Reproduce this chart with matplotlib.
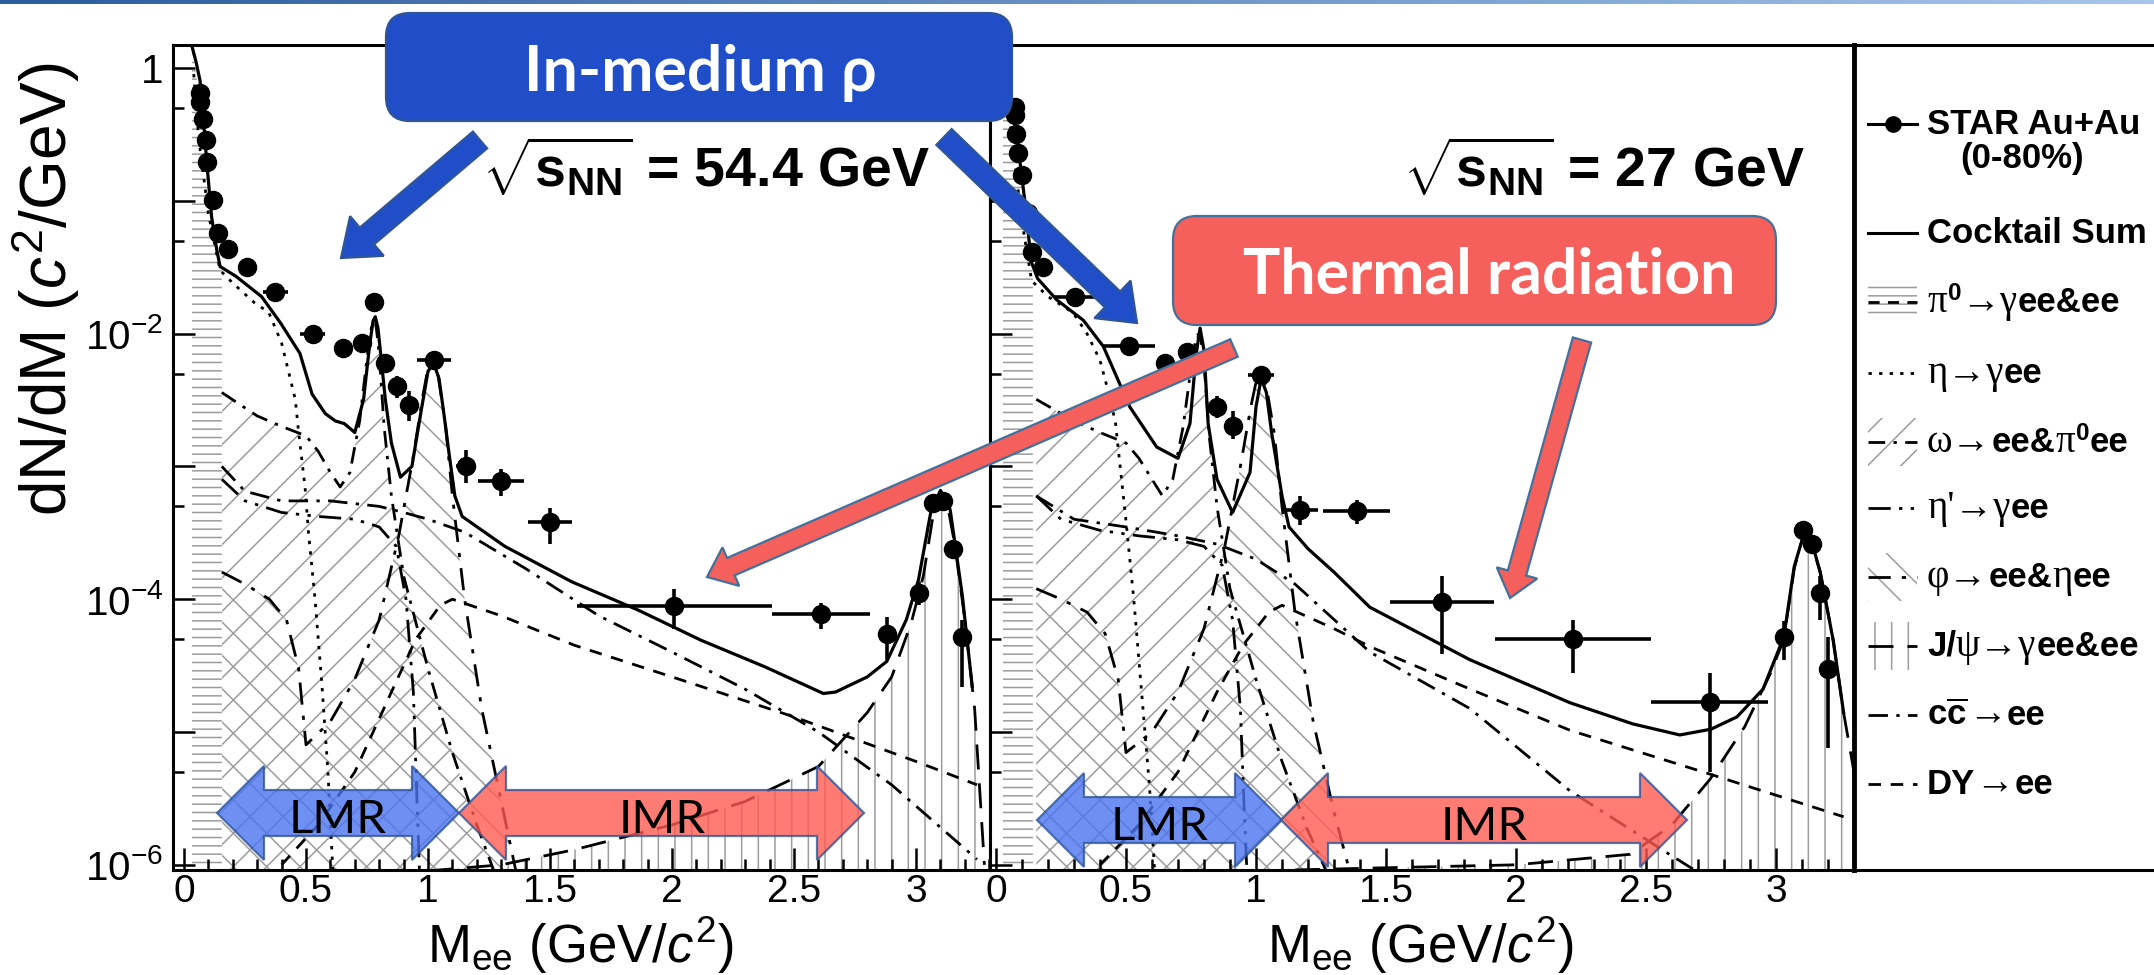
import numpy as np
import matplotlib
matplotlib.use("Agg")
import matplotlib.pyplot as plt
from matplotlib.patches import FancyBboxPatch, Polygon, Rectangle
from matplotlib.offsetbox import TextArea, HPacker, AnnotationBbox
from matplotlib.ticker import FixedLocator, FuncFormatter, NullFormatter
from matplotlib.colors import LinearSegmentedColormap

# ======================= DATA =======================
# ---- 54.4 GeV (left panel) ----
L_m = [0.066, 0.066, 0.078, 0.090, 0.094, 0.119, 0.139, 0.180, 0.258, 0.375, 0.527, 0.650, 0.728, 0.780,
       0.822, 0.874, 0.924, 1.023, 1.155, 1.300, 1.500, 2.010, 2.610, 2.880, 3.010, 3.070, 3.110, 3.150, 3.190]
L_y = [0.65, 0.555, 0.41, 0.287, 0.196, 0.101, 0.057, 0.043, 0.032, 0.0207, 0.0100, 0.0078, 0.0085, 0.0174,
       0.0060, 0.0040, 0.0029, 0.0063, 1.0e-3, 7.7e-4, 3.8e-4, 8.9e-5, 7.7e-5, 5.5e-5, 1.12e-4, 5.3e-4, 5.5e-4, 2.4e-4, 5.2e-5]
L_xerr = [0, 0, 0, 0, 0, 0, 0, 0, 0.02, 0.05, 0.05, 0.02, 0.02, 0.01,
          0.01, 0.01, 0.01, 0.07, 0.04, 0.095, 0.09, 0.40, 0.20, 0.03, 0.01, 0.01, 0.01, 0.01, 0.01]
L_ylo = [0.65, 0.555, 0.41, 0.287, 0.196, 0.101, 0.057, 0.043, 0.032, 0.0207, 0.0100, 0.0078, 0.0085, 0.0174,
         0.0055, 0.0033, 0.0022, 0.0063, 7.5e-4, 6.0e-4, 2.6e-4, 6.0e-5, 6.0e-5, 3.5e-5, 9.0e-5, 5.3e-4, 5.5e-4, 2.0e-4, 2.2e-5]
L_yhi = [0.65, 0.555, 0.41, 0.287, 0.196, 0.101, 0.057, 0.043, 0.032, 0.0207, 0.0100, 0.0078, 0.0085, 0.0174,
         0.0066, 0.0048, 0.0037, 0.0063, 1.34e-3, 9.5e-4, 4.9e-4, 1.2e-4, 9.4e-5, 7.3e-5, 1.35e-4, 5.3e-4, 5.5e-4, 2.8e-4, 7.0e-5]

L_sum_m = [0.031, 0.050, 0.066, 0.080, 0.093, 0.113, 0.134, 0.148, 0.213, 0.318, 0.396, 0.475, 0.525, 0.579, 0.620,
           0.657, 0.700, 0.736, 0.760, 0.775, 0.784, 0.795, 0.810, 0.825, 0.850, 0.887, 0.934, 0.970, 1.000, 1.023,
           1.045, 1.065, 1.085, 1.110, 1.140, 1.315, 1.590, 1.860, 2.120, 2.380, 2.620, 2.670, 2.800, 2.880, 2.960,
           3.010, 3.060, 3.100, 3.140, 3.190, 3.230]
L_sum = [1.5, 1.1, 0.8, 0.4, 0.2, 0.076, 0.043, 0.032, 0.027, 0.019, 0.012, 0.0071, 0.0035, 0.0025, 0.0022,
         0.0021, 0.0018, 0.0032, 0.008, 0.0125, 0.0134, 0.011, 0.006, 0.0032, 0.0015, 8.3e-4, 1.0e-3, 2.5e-3, 5.2e-3, 6.0e-3,
         4.6e-3, 2.5e-3, 1.3e-3, 6.0e-4, 4.2e-4, 2.5e-4, 1.35e-4, 8.3e-5, 4.9e-5, 3.1e-5, 1.95e-5, 2.0e-5, 2.6e-5, 3.4e-5, 7.0e-5,
         1.4e-4, 4.5e-4, 6.6e-4, 4.7e-4, 1.05e-4, 2.2e-5]

L_pi0_m = [0.033, 0.050, 0.070, 0.090, 0.110, 0.130, 0.155, 0.155]
L_pi0 = [1.5, 0.9, 0.5, 0.25, 0.1, 0.045, 0.03, 1e-8]
L_eta_m = [0.040, 0.060, 0.100, 0.148, 0.200, 0.290, 0.347, 0.400, 0.456, 0.470, 0.496, 0.510, 0.537, 0.565, 0.590, 0.610]
L_eta = [0.9, 0.3, 0.08, 0.030, 0.024, 0.017, 0.0145, 0.0085, 0.0032, 0.0018, 7e-4, 3.2e-4, 1e-4, 2.3e-5, 5e-6, 9e-7]
OMG_m = [0.155, 0.300, 0.400, 0.500, 0.550, 0.600, 0.640, 0.680, 0.720, 0.750, 0.770, 0.785, 0.800, 0.820, 0.850,
         0.900, 1.000, 1.100, 1.200, 1.270]
L_omg = [3.6e-3, 2.4e-3, 2.0e-3, 1.7e-3, 1.3e-3, 9e-4, 7e-4, 9e-4, 2.2e-3, 6.5e-3, 0.0118, 0.0125, 0.007, 2e-3, 6e-4,
         1.5e-4, 3e-5, 7e-6, 2e-6, 9e-7]
PHI_m = [0.155, 0.250, 0.350, 0.420, 0.470, 0.500, 0.600, 0.700, 0.800, 0.880, 0.940, 0.980, 1.000, 1.020, 1.040,
         1.070, 1.100, 1.150, 1.220, 1.300, 1.360]
L_phi = [1.6e-4, 1.3e-4, 1.0e-4, 7e-5, 3e-5, 8e-6, 1.2e-5, 2.5e-5, 7e-5, 3e-4, 1.2e-3, 3.5e-3, 5.5e-3, 6.0e-3, 5.0e-3,
         2.2e-3, 6e-4, 1e-4, 1.5e-5, 3e-6, 9e-7]
ETP_m = [0.155, 0.250, 0.400, 0.550, 0.700, 0.800, 0.870, 0.910, 0.940, 0.955, 0.965]
L_etp = [8e-4, 5.5e-4, 4.5e-4, 4.2e-4, 4.0e-4, 3.5e-4, 2.5e-4, 1.0e-4, 2e-5, 3e-6, 9e-7]
L_cc_m = [0.155, 0.250, 0.400, 0.600, 0.800, 0.900, 1.000, 1.150, 1.400, 1.700, 2.000, 2.300, 2.600, 2.900, 3.250]
L_cc = [1.0e-3, 6.5e-4, 5.5e-4, 5.5e-4, 5.0e-4, 4.5e-4, 4.0e-4, 3.2e-4, 1.7e-4, 7.5e-5, 4.0e-5, 2.1e-5, 1.0e-5, 4.0e-6, 1.1e-6]
L_dy_m = [0.400, 0.550, 0.700, 0.850, 0.950, 1.050, 1.100, 1.300, 1.600, 2.000, 2.500, 3.000, 3.250]
L_dy = [1e-6, 2e-6, 5e-6, 2e-5, 5e-5, 9e-5, 1e-4, 7.5e-5, 4.5e-5, 2.6e-5, 1.3e-5, 6e-6, 4e-6]
L_jp_m = [1.000, 1.300, 1.600, 2.000, 2.300, 2.600, 2.800, 2.900, 2.980, 3.030, 3.070, 3.100, 3.130, 3.160, 3.200, 3.240, 3.280]
L_jp = [9e-7, 1e-6, 1.3e-6, 2e-6, 3e-6, 5.5e-6, 1.4e-5, 2.6e-5, 6.6e-5, 1.5e-4, 4.3e-4, 6.5e-4, 5.0e-4, 2.5e-4, 7e-5, 1.5e-5, 1e-6]

# ---- 27 GeV (right panel) ----
R_m = [0.073, 0.073, 0.077, 0.085, 0.099, 0.124, 0.137, 0.180, 0.305, 0.510, 0.650, 0.733, 0.849, 0.910, 1.020,
       1.170, 1.387, 1.714, 2.220, 2.746, 3.030, 3.105, 3.140, 3.170, 3.200]
R_y = [0.51, 0.44, 0.32, 0.23, 0.156, 0.081, 0.041, 0.032, 0.019, 0.0080, 0.0060, 0.0073, 0.0028, 0.0020, 0.0049,
       4.7e-4, 4.6e-4, 9.6e-5, 5.0e-5, 1.67e-5, 5.2e-5, 3.3e-4, 2.6e-4, 1.12e-4, 3.0e-5]
R_xerr = [0, 0, 0, 0, 0, 0, 0, 0.03, 0.08, 0.10, 0.02, 0.02, 0.02, 0.02, 0.05,
          0.07, 0.13, 0.20, 0.30, 0.225, 0.02, 0.02, 0.02, 0.01, 0.01]
R_ylo = [0.51, 0.44, 0.32, 0.23, 0.156, 0.081, 0.041, 0.032, 0.019, 0.0080, 0.0060, 0.0073, 0.0023, 0.0016, 0.0049,
         3.6e-4, 3.7e-4, 3.9e-5, 2.8e-5, 5.0e-6, 3.5e-5, 3.3e-4, 2.6e-4, 7.0e-5, 7.6e-6]
R_yhi = [0.51, 0.44, 0.32, 0.23, 0.156, 0.081, 0.041, 0.032, 0.019, 0.0080, 0.0060, 0.0073, 0.0034, 0.0026, 0.0049,
         6.0e-4, 5.6e-4, 1.5e-4, 7.0e-5, 2.8e-5, 6.8e-5, 3.3e-4, 2.6e-4, 1.5e-4, 5.2e-5]

R_sum_m = [0.025, 0.050, 0.080, 0.100, 0.120, 0.135, 0.160, 0.233, 0.336, 0.413, 0.515, 0.618, 0.700, 0.746, 0.770,
           0.785, 0.800, 0.816, 0.850, 0.910, 0.977, 1.000, 1.020, 1.040, 1.060, 1.100, 1.127, 1.200, 1.300, 1.438,
           1.823, 2.208, 2.450, 2.630, 2.750, 2.850, 2.950, 3.030, 3.070, 3.105, 3.140, 3.170, 3.220, 3.260]
R_sum = [1.5, 0.8, 0.3, 0.15, 0.07, 0.035, 0.026, 0.018, 0.0126, 0.008, 0.0028, 0.0014, 0.00115, 0.0021, 0.007,
         0.011, 0.0075, 0.0021, 8.0e-4, 4.5e-4, 9.0e-4, 2.8e-3, 4.6e-3, 3.6e-3, 1.8e-3, 6.0e-4, 3.5e-4, 2.4e-4, 1.6e-4, 8.7e-5,
         3.5e-5, 1.66e-5, 1.15e-5, 9.5e-6, 1.05e-5, 1.3e-5, 2.1e-5, 5.2e-5, 1.76e-4, 3.0e-4, 2.6e-4, 1.6e-4, 4.9e-5, 1.4e-5]

R_pi0_m = [0.027, 0.045, 0.065, 0.085, 0.105, 0.125, 0.142, 0.142]
R_pi0 = [1.5, 0.9, 0.5, 0.25, 0.1, 0.045, 0.028, 1e-8]
R_eta_m = [0.035, 0.060, 0.100, 0.137, 0.200, 0.296, 0.350, 0.400, 0.440, 0.460, 0.480, 0.500, 0.530, 0.560, 0.590, 0.610]
R_eta = [0.9, 0.3, 0.07, 0.025, 0.019, 0.0144, 0.010, 0.0063, 0.0032, 0.0021, 9e-4, 3.9e-4, 1e-4, 2e-5, 4e-6, 9e-7]
R_omg = [3.2e-3, 2.2e-3, 1.8e-3, 1.5e-3, 1.15e-3, 8e-4, 6e-4, 8e-4, 2.0e-3, 5.5e-3, 0.0095, 0.0102, 0.006, 1.7e-3, 5e-4,
         1.2e-4, 2.5e-5, 6e-6, 1.8e-6, 9e-7]
R_phi = [1.2e-4, 1.0e-4, 8e-5, 5.5e-5, 2.5e-5, 7e-6, 1e-5, 2e-5, 6e-5, 2.5e-4, 1.0e-3, 2.8e-3, 4.3e-3, 4.6e-3, 4.0e-3,
         1.8e-3, 5e-4, 8e-5, 1.2e-5, 2.5e-6, 9e-7]
R_etp = [6e-4, 4e-4, 3.3e-4, 3.0e-4, 2.8e-4, 2.5e-4, 1.8e-4, 7e-5, 1.5e-5, 2.5e-6, 9e-7]
R_cc_m = [0.155, 0.300, 0.500, 0.700, 0.850, 1.000, 1.150, 1.438, 1.823, 2.208, 2.590, 2.900]
R_cc = [6e-4, 4e-4, 3.5e-4, 3.0e-4, 2.6e-4, 2.0e-4, 1.3e-4, 4.0e-5, 1.5e-5, 3.6e-6, 1.2e-6, 5e-7]
R_dy_m = [0.400, 0.550, 0.700, 0.850, 0.950, 1.050, 1.100, 1.300, 1.438, 1.800, 2.208, 2.720, 3.260]
R_dy = [1e-6, 2e-6, 5e-6, 2e-5, 4.5e-5, 8e-5, 9e-5, 6e-5, 4.4e-5, 2.2e-5, 1.03e-5, 5e-6, 2.3e-6]
R_jp_m = [1.000, 1.500, 2.000, 2.440, 2.600, 2.746, 2.880, 2.980, 3.030, 3.070, 3.105, 3.140, 3.170, 3.220, 3.260, 3.300]
R_jp = [9e-7, 9.5e-7, 1e-6, 1.2e-6, 2e-6, 4.4e-6, 1.1e-5, 2.8e-5, 5e-5, 1.7e-4, 3e-4, 2.5e-4, 1.6e-4, 4.9e-5, 1.4e-5, 5e-6]

X_TICKS = [0, 0.5, 1, 1.5, 2, 2.5, 3]
X_TICKLABELS = ['0', '0.5', '1', '1.5', '2', '2.5', '3']
Y_LABELED = {1.0: '1', 1e-2: r'$10^{-2}$', 1e-4: r'$10^{-4}$', 1e-6: r'$10^{-6}$'}

# ======================= STYLE =======================
plt.rcParams['font.family'] = ['Liberation Sans', 'DejaVu Sans']
plt.rcParams['mathtext.fontset'] = 'custom'
plt.rcParams['mathtext.rm'] = 'Liberation Sans'
plt.rcParams['mathtext.it'] = 'Liberation Sans:italic'
plt.rcParams['mathtext.bf'] = 'Liberation Sans:bold'
plt.rcParams['hatch.linewidth'] = 1.1
plt.rcParams['hatch.color'] = '#9c9c9c'

W, H = 2154, 975
fig = plt.figure(figsize=(W / 100, H / 100), dpi=100)


def rect(x0, y0, x1, y1):
    return [x0 / W, 1 - y1 / H, (x1 - x0) / W, (y1 - y0) / H]


YLIM = (9.14e-7, 1.49)
FLOOR = 1e-9
HC = '#9c9c9c'
LW = 2.0
LS_ETA = (0, (1.2, 2.6))
LS_OMG = (0, (6, 3, 1.2, 3))
LS_ETP = (0, (8, 3, 1.2, 3, 1.2, 3))
LS_PHI = (0, (8, 4, 1.5, 4))
LS_JP = (0, (9, 5))
LS_CC = (0, (7, 3, 1.2, 3))
LS_DY = (0, (4.5, 3.5))


def yfmt(v, pos):
    for k, s in Y_LABELED.items():
        if abs(np.log10(v) - np.log10(k)) < 1e-6:
            return s
    return ''


def panel(ax, xlim, pi0m, pi0y, etam, etay, omgy, phiy, etpy, ccm, ccy, dym, dyy, jpm, jpy,
          summ, sumy, pm, py, pxe, pylo, pyhi, ylabels):
    ax.set_yscale('log')
    ax.set_ylim(*YLIM)
    ax.set_xlim(*xlim)
    ax.fill_between(OMG_m, omgy, FLOOR, facecolor='none', edgecolor=HC, hatch='/', lw=0, zorder=1)
    ax.fill_between(PHI_m, phiy, FLOOR, facecolor='none', edgecolor=HC, hatch='\\', lw=0, zorder=1)
    ax.fill_between(jpm, jpy, FLOOR, facecolor='none', edgecolor=HC, hatch='|', lw=0, zorder=1)
    ax.fill_between(pi0m, pi0y, FLOOR, facecolor='white', edgecolor=HC, hatch='--', lw=0, zorder=1.2)
    ax.plot(etam, etay, color='k', ls=LS_ETA, lw=LW, zorder=2)
    ax.plot(OMG_m, omgy, color='k', ls=LS_OMG, lw=LW, zorder=2)
    ax.plot(ETP_m, etpy, color='k', ls=LS_ETP, lw=LW, zorder=2)
    ax.plot(PHI_m, phiy, color='k', ls=LS_PHI, lw=LW, zorder=2)
    ax.plot(jpm, jpy, color='k', ls=LS_JP, lw=LW, zorder=2)
    ax.plot(ccm, ccy, color='k', ls=LS_CC, lw=LW, zorder=2)
    ax.plot(dym, dyy, color='k', ls=LS_DY, lw=LW, zorder=2)
    ax.plot(summ, sumy, color='k', lw=2.3, zorder=3)
    pm = np.array(pm); py = np.array(py)
    yerr = [py - np.array(pylo), np.array(pyhi) - py]
    ax.errorbar(pm, py, xerr=pxe, yerr=yerr, fmt='o', color='k', ms=13, elinewidth=2.6,
                capsize=0, zorder=4)
    ax.yaxis.set_major_locator(FixedLocator([1e-6, 1e-5, 1e-4, 1e-3, 1e-2, 1e-1, 1.0]))
    ax.yaxis.set_minor_locator(FixedLocator([5e-6, 5e-5, 5e-4, 5e-3, 5e-2, 5e-1]))
    ax.yaxis.set_major_formatter(FuncFormatter(yfmt))
    ax.yaxis.set_minor_formatter(NullFormatter())
    ax.xaxis.set_major_locator(FixedLocator(X_TICKS))
    ax.xaxis.set_minor_locator(FixedLocator([i / 10 for i in range(0, 34)]))
    ax.set_xticklabels(X_TICKLABELS)
    ax.tick_params(which='both', direction='in', top=False, right=False, width=1.8)
    ax.tick_params(which='major', length=16, labelsize=28)
    ax.tick_params(axis='x', which='major', pad=3)
    ax.tick_params(axis='y', which='major', pad=7, labelsize=29)
    ax.tick_params(which='minor', length=8)
    ax.tick_params(axis='y', labelleft=ylabels)
    for s in ax.spines.values():
        s.set_linewidth(2.2)


axL = fig.add_axes(rect(173, 45, 990, 870))
panel(axL, (-0.045, 3.303), L_pi0_m, L_pi0, L_eta_m, L_eta, L_omg, L_phi, L_etp, L_cc_m, L_cc,
      L_dy_m, L_dy, L_jp_m, L_jp, L_sum_m, L_sum, L_m, L_y, L_xerr, L_ylo, L_yhi, True)
axR = fig.add_axes(rect(990, 45, 1854, 870))
panel(axR, (-0.023, 3.30), R_pi0_m, R_pi0, R_eta_m, R_eta, R_omg, R_phi, R_etp, R_cc_m, R_cc,
      R_dy_m, R_dy, R_jp_m, R_jp, R_sum_m, R_sum, R_m, R_y, R_xerr, R_ylo, R_yhi, False)

# ======================= LEGEND PANEL =======================
axLeg = fig.add_axes(rect(1854, 45, 2154, 870))
axLeg.set_xlim(1854, 2154)
axLeg.set_ylim(870, 45)
axLeg.set_xticks([]); axLeg.set_yticks([])
axLeg.spines['right'].set_visible(False)
axLeg.spines['left'].set_linewidth(3.5)
axLeg.spines['top'].set_linewidth(2.2)
axLeg.spines['bottom'].set_linewidth(2.2)

SANS = dict(fontfamily=['Liberation Sans', 'DejaVu Sans'], fontweight='bold', fontsize=25)
SERIF = dict(fontfamily=['Liberation Serif', 'DejaVu Serif'], fontsize=28)


def leg_label(y, pieces):
    boxes = [TextArea(t, textprops=p) for t, p in pieces]
    pk = HPacker(children=boxes, align='baseline', pad=0, sep=0)
    ab = AnnotationBbox(pk, (1927, y), xycoords='data', box_alignment=(0, 0.5), frameon=False, pad=0)
    axLeg.add_artist(ab)


x0s, x1s = 1868, 1917
axLeg.plot([x0s, x1s], [124, 124], 'k-', lw=2.2)
axLeg.plot([1893], [124], 'ko', ms=11)
axLeg.plot([x0s, x1s], [233, 233], 'k-', lw=2.2)
axLeg.add_patch(Rectangle((x0s, 286), 49, 32, facecolor='none', edgecolor=HC, hatch='--', lw=0))
axLeg.plot([x0s, x1s], [302, 302], color='k', ls=(0, (4, 3)), lw=2)
axLeg.plot([x0s, x1s], [373, 373], color='k', ls=LS_ETA, lw=2)
axLeg.add_patch(Rectangle((x0s, 418), 49, 48, facecolor='none', edgecolor=HC, hatch='/', lw=0))
axLeg.plot([x0s, x1s], [442, 442], color='k', ls=LS_OMG, lw=2)
axLeg.plot([x0s, x1s], [508, 508], color='k', ls=LS_ETP, lw=2)
axLeg.add_patch(Rectangle((x0s, 553), 49, 48, facecolor='none', edgecolor=HC, hatch='\\', lw=0))
axLeg.plot([x0s, x1s], [577, 577], color='k', ls=LS_PHI, lw=2)
axLeg.add_patch(Rectangle((x0s, 622), 49, 48, facecolor='none', edgecolor=HC, hatch='|', lw=0))
axLeg.plot([x0s, x1s], [646, 646], color='k', ls=LS_JP, lw=2)
axLeg.plot([x0s, x1s], [715, 715], color='k', ls=LS_CC, lw=2)
axLeg.plot([x0s, x1s], [784, 784], color='k', ls=LS_DY, lw=2)

leg_label(124, [("STAR Au+Au", SANS)])
axLeg.text(2022, 158, "(0-80%)", ha='center', va='center', **SANS)
leg_label(233, [("Cocktail Sum", SANS)])
leg_label(302, [("π", SERIF), (r"$^{\mathbf{0}}$", SANS), ("→γ", SERIF), ("ee&ee", SANS)])
leg_label(373, [("η→γ", SERIF), ("ee", SANS)])
leg_label(442, [("ω→", SERIF), ("ee&", SANS), ("π", SERIF), (r"$^{\mathbf{0}}$", SANS), ("ee", SANS)])
leg_label(508, [("η'→γ", SERIF), ("ee", SANS)])
leg_label(577, [("φ→", SERIF), ("ee&", SANS), ("η", SERIF), ("ee", SANS)])
leg_label(646, [("J/", SANS), ("ψ→γ", SERIF), ("ee&ee", SANS)])
leg_label(715, [(r"$\mathbf{c\overline{c}}$", SANS), ("→", SERIF), ("ee", SANS)])
leg_label(784, [("DY", SANS), ("→", SERIF), ("ee", SANS)])

# ======================= OVERLAY (annotations) =======================
ov = fig.add_axes([0, 0, 1, 1], zorder=10)
ov.imshow(np.linspace(0, 1, 256)[None, :], extent=[0, W, 4, 0], aspect='auto',
          cmap=LinearSegmentedColormap.from_list('band', ['#2D5C9E', '#A6C6EC']))
ov.set_xlim(0, W)
ov.set_ylim(H, 0)
ov.axis('off')


def arrow_poly(x0, y0, x1, y1, sw, hw, hl):
    d = np.array([x1 - x0, y1 - y0], float)
    u = d / np.hypot(*d)
    p = np.array([-u[1], u[0]])
    tip = np.array([x1, y1], float)
    b = tip - u * hl
    t = np.array([x0, y0], float)
    return [t + p * sw / 2, b + p * sw / 2, b + p * hw / 2, tip, b - p * hw / 2, b - p * sw / 2, t - p * sw / 2]


def dbl_arrow_poly(xl, xr, yc, sh, hh, hl):
    return [(xl, yc), (xl + hl, yc - hh), (xl + hl, yc - sh), (xr - hl, yc - sh), (xr - hl, yc - hh),
            (xr, yc), (xr - hl, yc + hh), (xr - hl, yc + sh), (xl + hl, yc + sh), (xl + hl, yc + hh)]


BLUE, BLUE_EC = '#1F4EC8', '#2F5597'
RED, RED_EC = '#F5605C', '#41719C'
BOXFONT = ['Lato', 'DejaVu Sans']

# titles
TITLE = dict(fontsize=40, fontweight='bold', ha='center', va='baseline')
ov.text(706, 187, r'$\sqrt{\mathbf{s}_{\mathbf{NN}}}$ = 54.4 GeV', **TITLE)
ov.text(1604, 187, r'$\sqrt{\mathbf{s}_{\mathbf{NN}}}$ = 27 GeV', **TITLE)

# axis titles
ov.text(46, 289, r'dN/dM ($c^{2}$/GeV)', rotation=90, fontsize=46, ha='center', va='center')
ov.text(580, 963, r'M$_{\mathrm{ee}}$ (GeV/$c^{2}$)', fontsize=38, ha='center', va='baseline')
ov.text(1420, 963, r'M$_{\mathrm{ee}}$ (GeV/$c^{2}$)', fontsize=38, ha='center', va='baseline')

# LMR / IMR double arrows
for (xl, xr, yc, col) in [(217, 459, 813, '#4B74F0'), (459, 864, 813, '#FF5B52'),
                          (1037, 1282, 820, '#4B74F0'), (1281, 1687, 820, '#FF5B52')]:
    ov.add_patch(Polygon(dbl_arrow_poly(xl, xr, yc, 23, 47, 47), closed=True, fc=col, alpha=0.8,
                         ec=BLUE_EC, lw=1.6))
ov.text(338, 833, 'LMR', fontsize=34, fontfamily=BOXFONT, ha='center', va='baseline')
ov.text(662, 833, 'IMR', fontsize=34, fontfamily=BOXFONT, ha='center', va='baseline')
ov.text(1160, 840, 'LMR', fontsize=34, fontfamily=BOXFONT, ha='center', va='baseline')
ov.text(1484, 840, 'IMR', fontsize=34, fontfamily=BOXFONT, ha='center', va='baseline')

# callout boxes
ov.add_patch(FancyBboxPatch((386, 13), 626, 108, boxstyle='round,pad=0,rounding_size=24',
                            fc=BLUE, ec=BLUE_EC, lw=1.6))
ov.text(700, 91, 'In-medium ρ', color='white', fontsize=45, fontfamily=BOXFONT, fontweight='bold',
        ha='center', va='baseline')
ov.add_patch(FancyBboxPatch((1173, 216), 603, 109, boxstyle='round,pad=0,rounding_size=24',
                            fc=RED, ec=RED_EC, lw=1.6))
ov.text(1489, 293, 'Thermal radiation', color='white', fontsize=45, fontfamily=BOXFONT,
        fontweight='bold', ha='center', va='baseline')

# pointing arrows
ov.add_patch(Polygon(arrow_poly(480, 140, 341, 258, 22, 52, 34), closed=True, fc=BLUE, ec=BLUE_EC, lw=1.6))
ov.add_patch(Polygon(arrow_poly(944, 137, 1137, 323, 22, 52, 34), closed=True, fc=BLUE, ec=BLUE_EC, lw=1.6))
ov.add_patch(Polygon(arrow_poly(1234, 348, 707, 577, 19, 42, 26), closed=True, fc=RED, ec=RED_EC, lw=1.6))
ov.add_patch(Polygon(arrow_poly(1582, 340, 1510, 598, 19, 42, 26), closed=True, fc=RED, ec=RED_EC, lw=1.6))

fig.savefig('out.png', dpi=100)
